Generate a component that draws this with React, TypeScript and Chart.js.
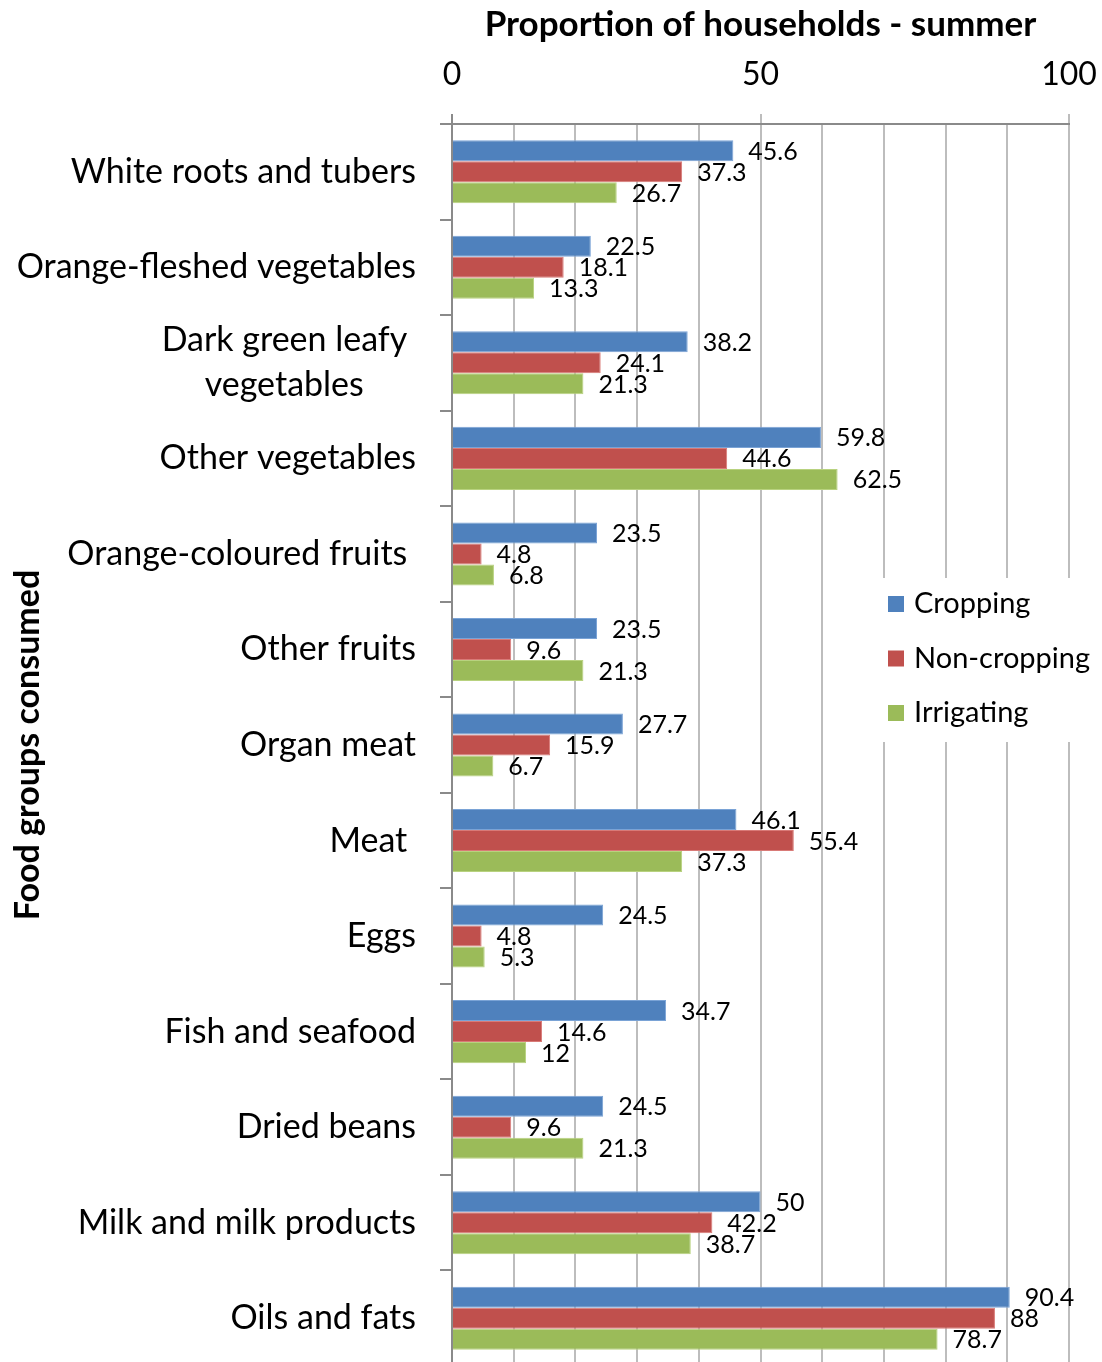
import React, { useEffect, useRef } from "react";
import { Chart, registerables } from "chart.js";

Chart.register(...registerables);

// Food groups (y categories); trailing spaces nudge a few labels left
const categories: (string | string[])[] = [
  "White roots and tubers",
  "Orange-fleshed vegetables",
  ["Dark green leafy ", "vegetables      "],
  "Other vegetables",
  "Orange-coloured fruits ",
  "Other fruits",
  "Organ meat",
  "Meat ",
  "Eggs",
  "Fish and seafood",
  "Dried beans",
  "Milk and milk products",
  "Oils and fats",
];

// Proportion of households (%) consuming each food group in summer
const cropping = [45.6, 22.5, 38.2, 59.8, 23.5, 23.5, 27.7, 46.1, 24.5, 34.7, 24.5, 50, 90.4];
const nonCropping = [37.3, 18.1, 24.1, 44.6, 4.8, 9.6, 15.9, 55.4, 4.8, 14.6, 9.6, 42.2, 88];
const irrigating = [26.7, 13.3, 21.3, 62.5, 6.8, 21.3, 6.7, 37.3, 5.3, 12, 21.3, 38.7, 78.7];

const seriesNames = ["Cropping", "Non-cropping", "Irrigating"];
const xTickLabels = [0, 50, 100];

const FONT = "Lato, 'Open Sans', 'Noto Sans', sans-serif";
const AXIS_COLOR = "#8a8a8a";
const GRID_COLOR = "#bdbdbd";

// Value labels just past the end of each bar
const valueLabels = {
  id: "valueLabels",
  afterDatasetsDraw(chart: any) {
    const { ctx } = chart;
    ctx.save();
    ctx.font = `25px ${FONT}`;
    ctx.fillStyle = "#000";
    ctx.textAlign = "left";
    ctx.textBaseline = "middle";
    chart.data.datasets.forEach((ds: any, i: number) => {
      const meta = chart.getDatasetMeta(i);
      meta.data.forEach((bar: any, j: number) => {
        ctx.fillText(String(ds.data[j]), bar.x + 15, bar.y + 1);
      });
    });
    ctx.restore();
  },
};

// Legend box drawn inside the plot on a white background
const insideLegend = {
  id: "insideLegend",
  afterDraw(chart: any) {
    const { ctx } = chart;
    ctx.save();
    ctx.fillStyle = "#fff";
    ctx.fillRect(878, 578, 224, 164);
    ctx.font = `29px ${FONT}`;
    ctx.textAlign = "left";
    ctx.textBaseline = "middle";
    chart.data.datasets.forEach((ds: any, i: number) => {
      const cy = 604 + i * 54.5;
      ctx.fillStyle = ds.backgroundColor;
      ctx.fillRect(888, cy - 8, 16, 16);
      ctx.fillStyle = "#000";
      ctx.fillText(ds.label, 914, cy);
    });
    ctx.restore();
  },
};

export default function App() {
  const canvasRef = useRef<HTMLCanvasElement | null>(null);

  useEffect(() => {
    if (!canvasRef.current) return;
    const chart = new Chart(canvasRef.current, {
      type: "bar",
      data: {
        labels: categories,
        datasets: [
          {
            label: seriesNames[0],
            data: cropping,
            backgroundColor: "#4F81BD",
            borderColor: "#7aa3d6",
            borderWidth: 1,
          },
          {
            label: seriesNames[1],
            data: nonCropping,
            backgroundColor: "#C0504D",
            borderColor: "#d97a77",
            borderWidth: 1,
          },
          {
            label: seriesNames[2],
            data: irrigating,
            backgroundColor: "#9BBB59",
            borderColor: "#b8d27f",
            borderWidth: 1,
          },
        ],
      },
      options: {
        indexAxis: "y",
        responsive: false,
        animation: false,
        devicePixelRatio: 1,
        layout: { padding: { left: 0, top: 0, right: 33, bottom: 0 } },
        datasets: { bar: { categoryPercentage: 0.66, barPercentage: 1 } },
        plugins: { legend: { display: false }, tooltip: { enabled: false } },
        scales: {
          x: {
            position: "top",
            min: 0,
            max: 100,
            ticks: {
              stepSize: 10,
              padding: 20,
              color: "#000",
              font: { family: FONT, size: 32 },
              callback: (v: any) => (xTickLabels.includes(Number(v)) ? String(v) : ""),
            },
            grid: {
              color: GRID_COLOR,
              lineWidth: 2,
              tickLength: 10,
              tickWidth: 2,
              tickColor: (c: any) =>
                c.tick && xTickLabels.includes(c.tick.value)
                  ? c.tick.value === 0
                    ? AXIS_COLOR
                    : GRID_COLOR
                  : "rgba(0,0,0,0)",
            },
            border: { display: true, color: AXIS_COLOR, width: 2 },
            title: {
              display: true,
              text: "Proportion of households - summer",
              color: "#000",
              font: { family: FONT, size: 35, weight: "bold" },
              padding: { top: 4, bottom: 0 },
            },
            afterFit: (s: any) => {
              s.height = 124;
              s.paddingLeft = 0;
              s.paddingRight = 0;
            },
          },
          y: {
            position: "left",
            ticks: {
              padding: 24,
              color: "#000",
              font: { family: FONT, size: 34, lineHeight: 1.32 },
            },
            grid: {
              offset: true,
              drawOnChartArea: false,
              drawTicks: true,
              tickLength: 12,
              color: AXIS_COLOR,
              lineWidth: 2,
            },
            border: { display: true, color: AXIS_COLOR, width: 2 },
            title: {
              display: true,
              text: "Food groups consumed",
              color: "#000",
              font: { family: FONT, size: 34, weight: "bold" },
              padding: { top: 8, bottom: 0 },
            },
            afterFit: (s: any) => {
              s.width = 452;
              s.paddingTop = 0;
              s.paddingBottom = 0;
            },
          },
        },
      },
      plugins: [valueLabels, insideLegend],
    } as any);
    return () => chart.destroy();
  }, []);

  return (
    <div
      style={{
        position: "absolute",
        left: 0,
        top: 0,
        width: 1102,
        height: 1362,
        overflow: "hidden",
        background: "#fff",
      }}
    >
      <canvas ref={canvasRef} width={1102} height={1366} style={{ display: "block" }} />
    </div>
  );
}
